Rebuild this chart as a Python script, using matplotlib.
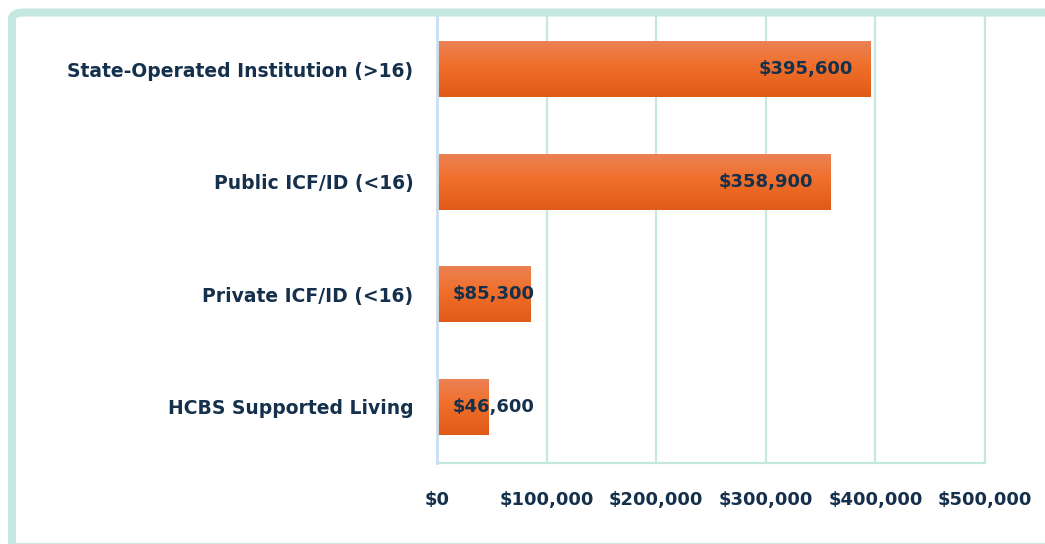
import numpy as np
import matplotlib.pyplot as plt
import matplotlib as mpl
from matplotlib.colors import LinearSegmentedColormap
from matplotlib.patches import FancyBboxPatch
from matplotlib.lines import Line2D
from matplotlib.ticker import FuncFormatter

categories = ["State-Operated Institution (>16)", "Public ICF/ID (<16)",
              "Private ICF/ID (<16)", "HCBS Supported Living"]
costs = [395600, 358900, 85300, 46600]
x_ticks = [0, 100000, 200000, 300000, 400000, 500000]

TEXT = "#15304C"
TEAL = "#C4E7E0"
BLUE = "#CADFF1"

mpl.rcParams.update({
    "font.family": "DejaVu Sans",
    "font.weight": "bold",
})

W, H = 1045, 544
fig = plt.figure(figsize=(W / 100, H / 100), dpi=100)
ax = fig.add_axes([437 / W, 81 / H, 548 / W, 450 / H])

# outer rounded frame (runs off the right/bottom edges)
fl, ft, fb = 12 / W, (H - 12.5) / H, -20 / H
frame = FancyBboxPatch((fl, fb), 1.2, ft - fb,
                       boxstyle="round,pad=0,rounding_size=0.012",
                       transform=fig.transFigure, facecolor="none",
                       edgecolor=TEAL, linewidth=5.8, zorder=5)
fig.patches.append(frame)
fig.lines.append(Line2D([fl, 1], [0.6 / H, 0.6 / H], transform=fig.transFigure,
                        color="#D3E9E4", linewidth=1))

grad_cmap = LinearSegmentedColormap.from_list(
    "bar", [(0, "#EB8256"), (0.45, "#F06F2B"), (1, "#E05A18")])
grad = np.linspace(0, 1, 64).reshape(-1, 1)

ypos = np.arange(len(categories))[::-1]
h = 0.5
bars = ax.barh(ypos, costs, height=h, color="#EE6A25", zorder=2)
for b, v, y in zip(bars, costs, ypos):
    im = ax.imshow(grad, cmap=grad_cmap, aspect="auto", origin="upper",
                   extent=[0, v, y - h / 2, y + h / 2], zorder=2.5)
    im.set_clip_path(b)
    label = f"${v:,.0f}"
    if v > 200000:
        ax.text(v - 16000, y, label, ha="right", va="center",
                fontsize=13, color=TEXT, fontweight="bold", zorder=4)
    else:
        ax.text(14000, y, label, ha="left", va="center",
                fontsize=13, color=TEXT, fontweight="bold", zorder=4)

ax.set_xlim(0, 500000)
ax.set_ylim(-0.5, 3.5)
ax.set_xticks(x_ticks)
ax.xaxis.set_major_formatter(FuncFormatter(lambda x, p: f"${x:,.0f}"))
ax.set_yticks(ypos)
ax.set_yticklabels(categories)
ax.tick_params(axis="both", length=0, colors=TEXT)
ax.tick_params(axis="x", pad=20, labelsize=13)
ax.tick_params(axis="y", pad=17, labelsize=13.5)
for lbl in ax.get_xticklabels() + ax.get_yticklabels():
    lbl.set_fontweight("bold")

ax.grid(axis="x", color=TEAL, linewidth=1.6, zorder=0)
ax.axvline(500000, color=TEAL, linewidth=1.6, zorder=0, clip_on=False)
ax.set_axisbelow(True)
for s in ["top", "right"]:
    ax.spines[s].set_visible(False)
ax.spines["left"].set_color(BLUE)
ax.spines["left"].set_linewidth(2)
ax.spines["bottom"].set_color(TEAL)
ax.spines["bottom"].set_linewidth(1.6)
ax.spines["left"].set_zorder(3)

fig.savefig("out.png", dpi=100)
